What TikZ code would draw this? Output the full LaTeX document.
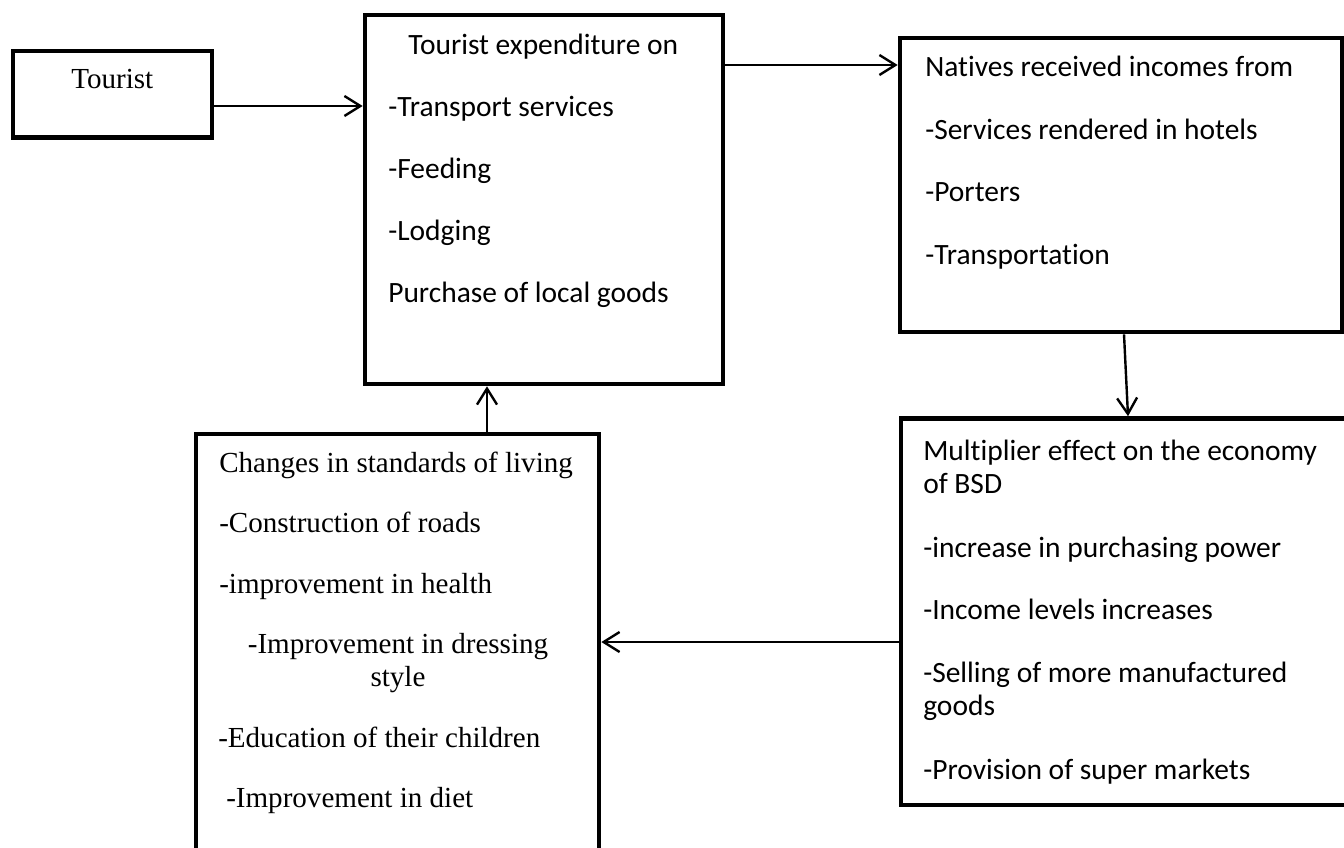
\documentclass[tikz,border=0pt]{standalone}
\usepackage{fontspec}
\setmainfont{Liberation Serif}
\newfontfamily\calibrifont[Ligatures=NoCommon]{Carlito}
\usetikzlibrary{arrows.meta}

\tikzset{
	box/.style={draw, line width=3.5pt, inner sep=0pt},
	flow/.style={line width=1.8pt, -{Straight Barb[length=12pt,width=15pt]}},
	sanstxt/.style={anchor=base west, inner sep=0pt, font=\calibrifont\fontsize{22.1}{26}\selectfont},
	romantxt/.style={anchor=base west, inner sep=0pt, font=\fontsize{21.8}{26}\selectfont},
}

\begin{document}
\begin{tikzpicture}[x=0.75pt,y=0.75pt,yscale=-1,xscale=1]
	\useasboundingbox (0,0) rectangle (1344,848);
	\clip (0,0) rectangle (1344,848);
	
	%Boxes
	\node [box, minimum width=149.25pt, minimum height=64.875pt] (tourist) at (112.5,94.25) {};
	\node [box, minimum width=268.5pt, minimum height=276.75pt] (spend) at (544,199.5) {};
	\node [box, minimum width=331.5pt, minimum height=220.5pt] (income) at (1121,185) {};
	\node [box, minimum width=336.75pt, minimum height=289.875pt] (multiplier) at (1125.5,611.75) {};
	\node [box, minimum width=302.25pt, minimum height=327pt] (living) at (397.5,652) {};
	
	%Arrows
	\draw [flow] (tourist.east |- 0,106) -- (spend.west |- 0,106) ;
	\draw [flow] (spend.east |- 0,65) -- (income.west |- 0,65) ;
	\draw [flow] (1124,0 |- income.south) -- (1128,0 |- multiplier.north) ;
	\draw [flow] (multiplier.west |- 0,642) -- (living.east |- 0,642) ;
	\draw [flow] (487,0 |- living.north) -- (487,0 |- spend.south) ;
	
	% Text Node
	\node [romantxt] (t1) at (71,89) {Tourist};
	
	% Text Node
	\node [sanstxt] (s1) at (408,55) {Tourist expenditure on};
	\node [sanstxt] (s2) at (388,117) {-Transport services};
	\node [sanstxt] (s3) at (388,179) {-Feeding};
	\node [sanstxt] (s4) at (388,241) {-Lodging};
	\node [sanstxt] (s5) at (388,303) {Purchase of local goods};
	
	% Text Node
	\node [sanstxt] (n1) at (925,77) {Natives received incomes from};
	\node [sanstxt] (n2) at (925,140) {-Services rendered in hotels};
	\node [sanstxt] (n3) at (925,202) {-Porters};
	\node [sanstxt] (n4) at (925,265) {-Transportation};
	
	% Text Node
	\node [sanstxt] (m1) at (923,460) {Multiplier effect on the economy};
	\node [sanstxt] (m2) at (923,493) {of BSD};
	\node [sanstxt] (m3) at (923,557) {-increase in purchasing power};
	\node [sanstxt] (m4) at (923,619) {-Income levels increases};
	\node [sanstxt] (m5) at (923,682) {-Selling of more manufactured};
	\node [sanstxt] (m6) at (923,715) {goods};
	\node [sanstxt] (m7) at (923,779) {-Provision of super markets};
	
	% Text Node
	\node [romantxt] (c1) at (219,472) {Changes in standards of living};
	\node [romantxt] (c2) at (219,532) {-Construction of roads};
	\node [romantxt] (c3) at (219,593) {-improvement in health};
	\node [romantxt, anchor=base] (c4) at (398,653) {-Improvement in dressing};
	\node [romantxt, anchor=base] (c5) at (398,686) {style};
	\node [romantxt] (c6) at (218,747) {-Education of their children};
	\node [romantxt] (c7) at (226,807) {-Improvement in diet};
	
\end{tikzpicture}
\end{document}
